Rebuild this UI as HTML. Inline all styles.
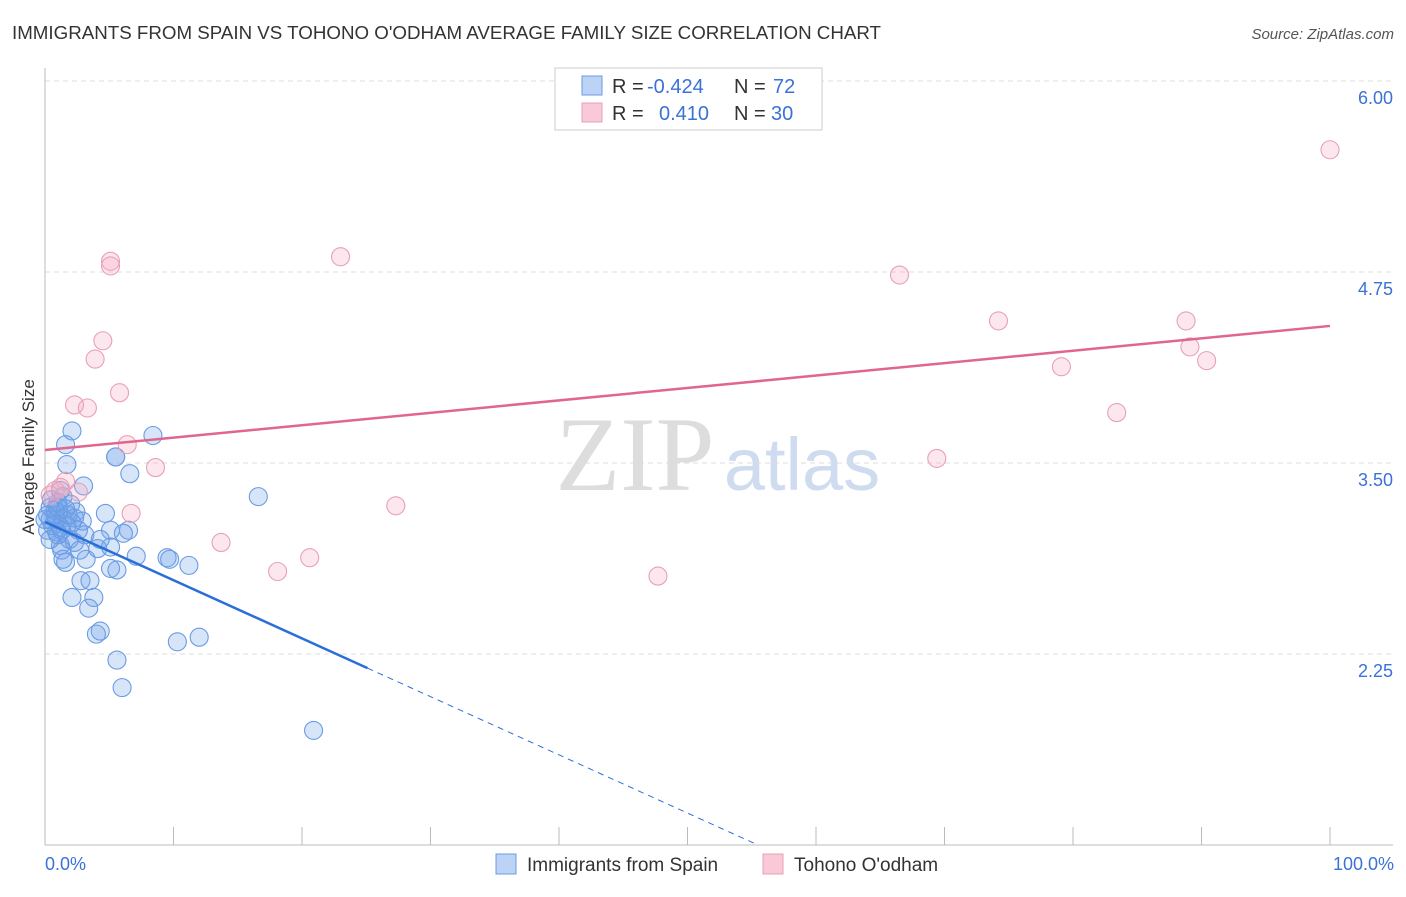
<!DOCTYPE html>
<html><head><meta charset="utf-8"><style>
body{margin:0;background:#fff;font-family:"Liberation Sans",sans-serif;}
</style></head><body>
<svg id="chart" width="1406" height="892" xmlns="http://www.w3.org/2000/svg">
<text x="12" y="39" font-size="18" fill="#333" textLength="869" lengthAdjust="spacingAndGlyphs">IMMIGRANTS FROM SPAIN VS TOHONO O'ODHAM AVERAGE FAMILY SIZE CORRELATION CHART</text>
<text x="1394" y="39" font-size="15" fill="#555" font-style="italic" text-anchor="end">Source: ZipAtlas.com</text>
<text x="635" y="490" font-size="106" fill="#ddd" font-family="Liberation Serif,serif" text-anchor="middle">ZIP</text>
<text x="802" y="490" font-size="74" fill="#cfdcf0" text-anchor="middle">atlas</text>
<g id="grid"></g><g id="axes"></g><g id="marks"></g>
<text transform="translate(34,457) rotate(-90)" font-size="17" fill="#333" text-anchor="middle">Average Family Size</text>
<text x="45" y="870" font-size="18" fill="#3a72d8">0.0%</text>
<text x="1394" y="870" font-size="18" fill="#3a72d8" text-anchor="end">100.0%</text>
<g>
<rect x="555" y="68" width="267" height="62" fill="#fff" stroke="#ccc"/>
<rect x="582" y="76" width="20" height="19" fill="#bcd3f5" stroke="#6a9be3"/>
<rect x="582" y="103" width="20" height="19" fill="#f9c9d8" stroke="#e8a0b8"/>
<text x="612" y="93" font-size="20" fill="#333">R =</text><text x="647" y="93" font-size="20" fill="#3a72d8">-0.424</text>
<text x="734" y="93" font-size="20" fill="#333">N =</text><text x="773" y="93" font-size="20" fill="#3a72d8">72</text>
<text x="612" y="120" font-size="20" fill="#333">R =</text><text x="659" y="120" font-size="20" fill="#3a72d8">0.410</text>
<text x="734" y="120" font-size="20" fill="#333">N =</text><text x="771" y="120" font-size="20" fill="#3a72d8">30</text>
</g>
<g>
<rect x="496" y="854" width="20" height="20" fill="#bcd3f5" stroke="#6a9be3"/>
<text x="527" y="871" font-size="19" fill="#333">Immigrants from Spain</text>
<rect x="763" y="854" width="20" height="20" fill="#f9c9d8" stroke="#e8a0b8"/>
<text x="794" y="871" font-size="19" fill="#333">Tohono O'odham</text>
</g>
</svg>
<script>
const yTicks=[6.00,4.75,3.50,2.25];
const blueX=[2.1,1.6,1.7,5.5,5.5,8.4,6.6,3.0,16.6,1.2,1.4,1.0,2.0,2.4,4.7,0.4,0.8,1.4,2.1,2.9,0.6,1.2,1.7,0.2,0.9,5.1,6.5,6.1,3.1,1.9,2.3,1.2,1.3,4.1,5.1,7.1,9.5,9.7,11.2,3.2,1.6,1.4,5.1,5.6,2.8,3.5,2.1,3.8,3.4,4.3,4.0,10.3,12.0,5.6,6.0,20.9,0.4,0.8,0.2,1.0,0.5,1.6,2.6,0,0.4,0.9,1.8,1.3,2.3,2.7,1.0,4.3];
const blueY=[3.71,3.62,3.49,3.54,3.54,3.68,3.43,3.35,3.28,3.32,3.28,3.24,3.23,3.18,3.17,3.21,3.16,3.14,3.11,3.12,3.09,3.08,3.09,3.06,3.05,3.06,3.06,3.04,3.03,3.00,2.98,2.96,2.93,2.94,2.95,2.89,2.88,2.87,2.83,2.87,2.85,2.87,2.81,2.80,2.73,2.73,2.62,2.62,2.55,2.40,2.38,2.33,2.36,2.21,2.03,1.75,3.13,3.19,3.16,3.03,3.26,3.20,3.06,3.13,3.00,3.13,3.16,3.06,3.14,2.93,3.21,3.00];
const pinkX=[100,23.0,5.1,5.1,66.5,74.2,88.8,89.1,4.5,3.9,79.1,90.4,5.8,2.3,3.3,83.4,6.4,8.6,69.4,1.6,2.6,1.2,0.4,27.3,6.7,13.7,20.6,18.1,47.7,0.8];
const pinkY=[5.55,4.85,4.82,4.79,4.73,4.43,4.43,4.26,4.30,4.18,4.13,4.17,3.96,3.88,3.86,3.83,3.62,3.47,3.53,3.38,3.31,3.34,3.29,3.22,3.17,2.98,2.88,2.79,2.76,3.32];
const blueTrend=[3.114,-0.0381];
const pinkTrend=[3.585,0.00812];
const NS='http://www.w3.org/2000/svg';
const xs=v=>45+v*12.85;
const ys=v=>463-(v-3.5)*152.8;
function mk(tag,attrs,parent){const e=document.createElementNS(NS,tag);for(const k in attrs)e.setAttribute(k,attrs[k]);parent.appendChild(e);return e;}
const grid=document.getElementById('grid'),axes=document.getElementById('axes'),marks=document.getElementById('marks');
yTicks.forEach(t=>{
 const l=mk('line',{x1:45,x2:1393,y1:ys(t),y2:ys(t),stroke:'#ddd','stroke-dasharray':'5,4'},grid);
 
 
 const tx=mk('text',{x:1393,y:ys(t)+23,'font-size':18,fill:'#3a72d8','text-anchor':'end'},grid);
 tx.textContent=t.toFixed(2);
 
 
});
const ax=mk('line',{x1:45,x2:45,y1:68,y2:845,stroke:'#bbb'},axes);


const bx=mk('line',{x1:45,x2:1393,y1:845,y2:845,stroke:'#bbb'},axes);


for(let i=0;i<=10;i++){
 const t=mk('line',{x1:xs(i*10),x2:xs(i*10),y1:827,y2:845,stroke:'#bbb'},axes);
 
 
}
blueX.forEach((x,i)=>{
 const c=mk('circle',{cx:xs(x),cy:ys(blueY[i]),r:9,fill:'rgba(110,160,235,0.28)',stroke:'#6a9be3','stroke-width':1.1},marks);
 
 
});
pinkX.forEach((x,i)=>{
 const c=mk('circle',{cx:xs(x),cy:ys(pinkY[i]),r:9,fill:'rgba(245,170,195,0.28)',stroke:'#e8a0b8','stroke-width':1.1},marks);
 
 
});
const pl=mk('line',{x1:xs(0),y1:ys(pinkTrend[0]),x2:xs(100),y2:ys(pinkTrend[0]+pinkTrend[1]*100),stroke:'#e0668e','stroke-width':2.5},marks);


const bEnd=25.1, bDash=(1.0-blueTrend[0])/blueTrend[1];
const bl=mk('line',{x1:xs(0),y1:ys(blueTrend[0]),x2:xs(bEnd),y2:ys(blueTrend[0]+blueTrend[1]*bEnd),stroke:'#2a6fd8','stroke-width':2.5},marks);


const bd=mk('line',{x1:xs(bEnd),y1:ys(blueTrend[0]+blueTrend[1]*bEnd),x2:xs(bDash),y2:ys(1.0),stroke:'#2a6fd8','stroke-width':1,'stroke-dasharray':'6,5'},marks);


</script>
</body></html>
